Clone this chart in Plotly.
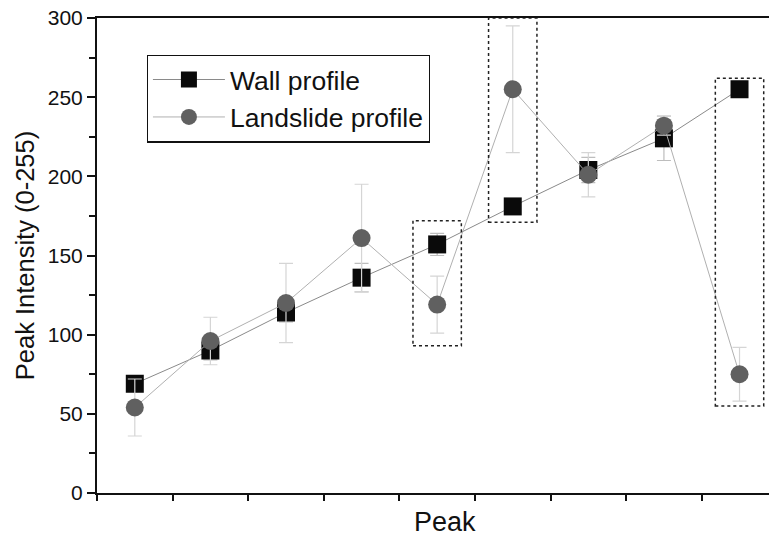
import plotly.graph_objects as go

peaks = [1, 2, 3, 4, 5, 6, 7, 8, 9]
wall = [69, 90, 114, 136, 157, 181, 204, 224, 255]
wall_err = [4, 6, 6, 9, 7, 5, 8, 14, 5]
landslide = [54, 96, 120, 161, 119, 255, 201, 232, 75]
landslide_err = [18, 15, 25, 34, 18, 40, 14, 6, 17]
highlight_peaks = [5, 6, 9]
highlight_low = [93, 171, 55]
highlight_high = [172, 300, 262]

FONT = "Liberation Sans, Arial, sans-serif"

fig = go.Figure()
fig.add_trace(go.Scatter(
    x=peaks, y=wall, name="Wall profile", mode="lines+markers",
    line=dict(color="#8a8a8a", width=1),
    marker=dict(symbol="square", size=18, color="#0a0a0a"),
    error_y=dict(type="data", array=wall_err, color="#bdbdbd", thickness=1.2, width=7),
))
fig.add_trace(go.Scatter(
    x=peaks, y=landslide, name="Landslide profile", mode="lines+markers",
    line=dict(color="#b0b0b0", width=1),
    marker=dict(symbol="circle", size=18, color="#606060"),
    error_y=dict(type="data", array=landslide_err, color="#d5d5d5", thickness=1.2, width=7),
))

for p, lo, hi in zip(highlight_peaks, highlight_low, highlight_high):
    fig.add_shape(type="rect", xref="x", yref="y", x0=p - 0.32, x1=p + 0.32, y0=lo, y1=hi,
                  line=dict(color="#222", width=1.5, dash="dot"), layer="above")

fig.update_layout(
    width=769, height=540,
    margin=dict(l=97, r=0, t=18, b=47),
    paper_bgcolor="white", plot_bgcolor="white",
    font=dict(family=FONT, color="#111"),
    showlegend=True,
    legend=dict(x=0.074, y=0.923, xanchor="left", yanchor="top",
                bgcolor="white", bordercolor="#111", borderwidth=1.2,
                font=dict(size=26.5, family=FONT), tracegroupgap=0,
                itemwidth=72),
    annotations=[dict(text="Peak", xref="paper", yref="paper", x=0.518, y=-0.062,
                      xanchor="center", yanchor="middle", showarrow=False,
                      font=dict(size=27, family=FONT))],
)
fig.update_xaxes(range=[0.5, 9.39], showgrid=False, zeroline=False,
                 showline=True, linecolor="#111", linewidth=2, mirror=True,
                 tickmode="array", tickvals=[i + 0.5 for i in range(10)],
                 ticks="outside", ticklen=6, tickwidth=1.5, tickcolor="#111",
                 showticklabels=False)
fig.update_yaxes(range=[0, 300], showgrid=False, zeroline=False,
                 showline=True, linecolor="#111", linewidth=2,
                 tickmode="linear", tick0=0, dtick=50,
                 ticks="outside", ticklen=8, tickwidth=1.5, tickcolor="#111",
                 minor=dict(dtick=25, ticks="outside", ticklen=6, tickwidth=1.5, tickcolor="#111"),
                 tickfont=dict(size=21, family=FONT),
                 title=dict(text="Peak Intensity (0-255)", font=dict(size=25.5, family=FONT), standoff=6))

fig.write_html("out.html")
